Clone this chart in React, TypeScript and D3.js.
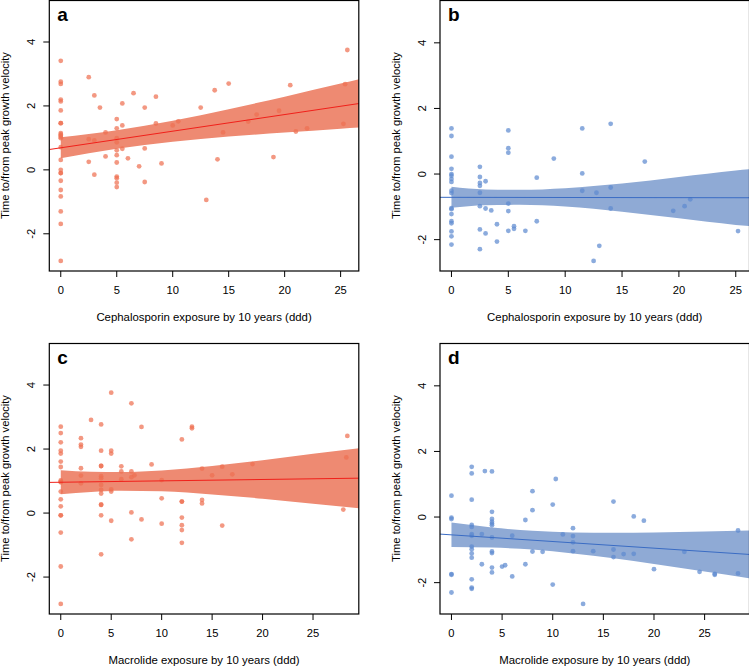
import React from "react";
import * as d3 from "d3";

// points: [exposure, time to/from PGV]
const cephRed: [number, number][] = [
  [0, 3.41], [0, 2.76], [0, 2.69], [0, 2.2], [0, 2.14], [0, 1.86], [0, 1.46], [0, 1.46],
  [0, 1.15], [0, 1.11], [0, 1.07], [0, 1.03], [0, 0.99], [0, 0.71], [0, 0.31], [0, 0.0],
  [0, -0.1], [0, -0.1], [0, -0.34], [0, -0.63], [0, -0.83], [0, -1.3], [0, -1.69], [0, -2.85],
  [2.5, 2.9], [2.5, 0.96], [2.5, 0.25], [3, 2.33], [3, 0.92], [3, -0.15], [3.5, 1.95],
  [4, 1.17], [4, 0.42], [5, 1.59], [5, 1.3], [5, 0.99], [5, 0.86], [5, 0.61], [5, 0.46],
  [5, 0.23], [5, -0.21], [5, -0.26], [5, -0.4], [5, -0.54], [5.5, 2.08], [5.5, 1.39],
  [5.5, 0.66], [6, 0.36], [6.5, 2.4], [7, 0.11], [7.5, 1.95], [7.5, 0.67], [7.5, -0.38],
  [8.5, 2.29], [8.5, 1.45], [9, 0.2], [10, 1.39], [10.5, 1.52], [12.5, 1.95], [13, -0.94],
  [13.75, 2.49], [14, 0.33], [14.5, 1.17], [15, 2.7], [16.75, 1.51], [17.5, 1.73], [19, 0.4],
  [19.5, 1.85], [20.5, 2.65], [21, 1.2], [22, 1.3], [25.25, 1.44], [25.4, 2.68], [25.6, 3.75],
];

const cephBlue: [number, number][] = [
  [0, 1.39], [0, 1.16], [0, 0.53], [0, 0.16], [0, 0.0], [0, -0.05], [0, -0.15], [0, -0.24],
  [0, -0.51], [0, -0.58], [0, -1.04], [0, -1.07], [0, -1.22], [0, -1.44], [0, -1.5],
  [0, -1.75], [0, -1.9], [0, -2.15], [2.5, 0.22], [2.5, -0.09], [2.5, -0.27], [2.5, -0.36],
  [2.5, -0.57], [2.5, -0.98], [2.5, -1.69], [2.5, -2.29], [3, -0.22], [3, -1.05], [3, -1.81],
  [3.5, -1.11], [4, -1.53], [4, -2.06], [5, 1.33], [5, 0.79], [5, 0.65], [5, -0.9],
  [5, -1.13], [5, -1.73], [5.5, -1.59], [5.5, -1.67], [6.5, -1.73], [7.5, -0.11],
  [7.5, -1.44], [9, 0.47], [11.5, 1.39], [11.5, 0.02], [11.5, -0.51], [12.5, -2.65],
  [12.75, -0.57], [13, -2.19], [14, 1.53], [14, -0.41], [14, -1.05], [17, 0.38],
  [19.5, -1.12], [20.5, -0.98], [21, -0.77], [25.2, -1.74],
];

const macRed: [number, number][] = [
  [0, 2.7], [0, 2.5], [0, 2.21], [0, 1.95], [0, 1.86], [0, 1.61], [0, 1.44], [0, 1.02],
  [0, 0.98], [0, 0.96], [0, 0.67], [0, 0.43], [0, 0.21], [0, -0.07], [0, -0.07], [0, -0.61],
  [0, -1.67], [0, -2.84], [2, 2.34], [2, 2.14], [2, 2.07], [2, 1.4], [2, 1.17], [2, 0.93],
  [3, 2.91], [4, 2.77], [4, 1.95], [4, 1.47], [4, 1.47], [4, 1.15], [4, 1.09], [4, 0.88],
  [4, 0.72], [4, 0.61], [4, 0.26], [4, 0.26], [4, -0.07], [4, -1.29], [5, 3.76], [5, 1.95],
  [5, 1.86], [5, 0.74], [5, 0.67], [5, -0.24], [6, 1.46], [6, 1.3], [6, 1.06], [7, 3.43],
  [7, 1.3], [7, 1.12], [7, 0.02], [7, -0.82], [7.3, 1.18], [8, 2.69], [8, -0.2], [9, 1.52],
  [10, 1.03], [10, 0.46], [10, -0.33], [12, 2.3], [12, 0.36], [12, 0.36], [12, -0.14],
  [12, -0.38], [12, -0.53], [12, -0.93], [13, 2.7], [13, 2.65], [14, 1.39], [14, 0.41],
  [14, 0.3], [15, 1.18], [16, 1.45], [16, -0.39], [17, 1.21], [19, 1.53], [28, 0.11],
  [28.3, 1.74], [28.4, 2.41],
];

const macBlue: [number, number][] = [
  [0, 0.65], [0, -0.02], [0, -0.06], [0, -1.74], [0, -1.76], [0, -2.3], [2, 1.53], [2, 1.33],
  [2, 0.53], [2, -0.24], [2, -0.3], [2, -0.52], [2, -0.57], [2, -0.9], [2, -0.98], [2, -1.11],
  [2, -1.24], [2, -1.9], [2, -2.15], [2, -2.19], [3, -0.52], [3, -1.44], [3.3, 1.4],
  [4, 1.39], [4, 0.16], [4, -0.06], [4, -0.14], [4, -0.2], [4, -0.25], [4, -0.62],
  [4, -1.05], [4, -1.1], [4, -1.54], [4, -1.69], [5, -1.51], [5.3, -1.47], [6, -0.57],
  [6, -1.81], [7.3, -0.09], [7.3, -1.44], [8, 0.79], [8, 0.21], [8, -1.05], [9, -1.06],
  [10, 0.38], [10, -2.06], [10.3, 1.16], [11, -0.53], [12, -0.34], [12, -0.58], [12, -0.77],
  [12, -1.04], [13, -2.65], [14, -1.04], [16, 0.47], [16, -0.99], [16, -1.22], [17, -1.13],
  [18, 0.02], [18, -1.12], [19, -0.11], [20, -1.59], [23, -1.06], [24.5, -1.67], [26, -1.73],
  [26, -1.76], [28.3, -0.41], [28.3, -1.72],
];

// fitted lines [intercept, slope]
const fitCephRed = [0.69, 0.052];
const fitCephBlue = [-0.71, -0.0005];
const fitMacRed = [0.963, 0.0043];
const fitMacBlue = [-0.543, -0.0203];

// confidence bands [x, lower, upper]
const bandCephRed = [
  [0, 0.36, 1.02], [5, 0.66, 1.24], [10, 0.88, 1.54], [15, 1.04, 1.9],
  [20, 1.17, 2.29], [25, 1.29, 2.7], [26.7, 1.33, 2.84],
];
const bandCephBlue = [
  [0, -1.03, -0.39], [3, -0.95, -0.47], [6, -0.94, -0.48], [10, -0.99, -0.43],
  [15, -1.15, -0.29], [20, -1.35, -0.09], [25, -1.55, 0.11], [26.3, -1.59, 0.15],
];
const bandMacRed = [
  [0, 0.59, 1.34], [3, 0.66, 1.29], [6, 0.7, 1.28], [10, 0.68, 1.33], [15, 0.58, 1.47],
  [20, 0.45, 1.65], [25, 0.29, 1.85], [29.6, 0.15, 2.03],
];
const bandMacBlue = [
  [0, -0.91, -0.17], [4, -0.93, -0.32], [8, -0.99, -0.42], [12, -1.11, -0.47],
  [16, -1.26, -0.48], [20, -1.43, -0.47], [25, -1.66, -0.44], [29.5, -1.87, -0.41],
];

const xTicks = [0, 5, 10, 15, 20, 25];
const yTicks = [-2, 0, 2, 4];
const yLabel = "Time to/from peak growth velocity";
const cephLabel = "Cephalosporin exposure by 10 years (ddd)";
const macLabel = "Macrolide exposure by 10 years (ddd)";

const RED = { band: "#ee8a72", point: "#ee7052", line: "#f0201a" };
const BLUE = { band: "#8faad5", point: "#5e8ad0", line: "#3a6cc4" };

const FONT = "'Liberation Sans', Arial, Helvetica, sans-serif";
const W = 309.5;
const H = 271;

function expand(lo: number, hi: number): [number, number] {
  const pad = (hi - lo) * 0.04;
  return [lo - pad, hi + pad];
}

type PanelProps = {
  id: string;
  letter: string;
  left: number;
  top: number;
  pts: [number, number][];
  fit: number[];
  band: number[][];
  colors: { band: string; point: string; line: string };
  xLabel: string;
};

function Panel({ id, letter, left, top, pts, fit, band, colors, xLabel }: PanelProps) {
  const [x0, x1] = d3.extent(pts, (d) => d[0]) as [number, number];
  const yMin = d3.min(pts, (d) => d[1]) as number;
  const x = d3.scaleLinear().domain(expand(x0, x1)).range([0, W]);
  const y = d3.scaleLinear().domain(expand(yMin, 5)).range([H, 0]);
  const [dx0, dx1] = x.domain();

  const area = d3
    .area<number[]>()
    .x((d) => x(d[0]))
    .y0((d) => y(d[1]))
    .y1((d) => y(d[2]))
    .curve(d3.curveMonotoneX);

  const clip = `clip-${id}`;
  return (
    <g transform={`translate(${left},${top})`} fontFamily={FONT}>
      <defs>
        <clipPath id={clip}>
          <rect x={0} y={0} width={W} height={H} />
        </clipPath>
      </defs>
      <g clipPath={`url(#${clip})`}>
        <path d={area(band) || ""} fill={colors.band} />
        {pts.map((d, i) => (
          <circle key={i} cx={x(d[0])} cy={y(d[1])} r={2.4} fill={colors.point} fillOpacity={0.72} />
        ))}
        <line
          x1={x(dx0)}
          x2={x(dx1)}
          y1={y(fit[0] + fit[1] * dx0)}
          y2={y(fit[0] + fit[1] * dx1)}
          stroke={colors.line}
          strokeWidth={1}
        />
      </g>
      <rect x={0} y={0.5} width={W} height={H - 0.5} fill="none" stroke="#000" strokeWidth={1.2} />
      {xTicks.map((t) => (
        <g key={t} transform={`translate(${x(t)},${H})`}>
          <line y1={0} y2={6} stroke="#000" strokeWidth={1} />
          <text y={23} textAnchor="middle" fontSize={11.2}>
            {t}
          </text>
        </g>
      ))}
      {yTicks.map((t) => (
        <g key={t} transform={`translate(0,${y(t)})`}>
          <line x1={0} x2={-6} stroke="#000" strokeWidth={1} />
          <text transform="translate(-14.5,0) rotate(-90)" textAnchor="middle" fontSize={11.2}>
            {t}
          </text>
        </g>
      ))}
      <text x={W / 2} y={H + 50} textAnchor="middle" fontSize={11.4}>
        {xLabel}
      </text>
      <text transform={`translate(-40,${H / 2}) rotate(-90)`} textAnchor="middle" fontSize={11.2}>
        {yLabel}
      </text>
      <text x={8} y={21} fontSize={19} fontWeight="bold">
        {letter}
      </text>
    </g>
  );
}

export default function App() {
  return (
    <svg width={749} height={666} style={{ position: "absolute", left: 0, top: 0, background: "#fff" }}>
      <Panel id="a" letter="a" left={49.3} top={0} pts={cephRed} fit={fitCephRed} band={bandCephRed} colors={RED} xLabel={cephLabel} />
      <Panel id="b" letter="b" left={440} top={0} pts={cephBlue} fit={fitCephBlue} band={bandCephBlue} colors={BLUE} xLabel={cephLabel} />
      <Panel id="c" letter="c" left={49.3} top={343} pts={macRed} fit={fitMacRed} band={bandMacRed} colors={RED} xLabel={macLabel} />
      <Panel id="d" letter="d" left={440} top={343} pts={macBlue} fit={fitMacBlue} band={bandMacBlue} colors={BLUE} xLabel={macLabel} />
    </svg>
  );
}
